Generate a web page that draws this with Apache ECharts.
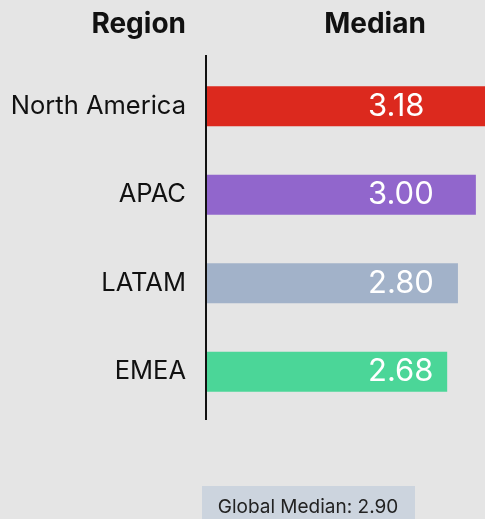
<!DOCTYPE html>
<html>
<head>
<meta charset="utf-8">
<script src="https://cdn.jsdelivr.net/npm/echarts@6/dist/echarts.min.js"></script>
<style>
  html, body { margin: 0; padding: 0; background: #e5e5e5; }
  #chart { width: 485px; height: 519px; }
</style>
</head>
<body>
<div id="chart"></div>
<script>
const regions = ['North America', 'APAC', 'LATAM', 'EMEA']
const medians = [3.18, 3.00, 2.80, 2.68]
const barColors = ['#dc291e', '#9166cc', '#a2b2c9', '#4bd698']
const globalMedian = 2.90

const FONT = 'Inter'

var chart = echarts.init(document.getElementById('chart'))

option = {
    backgroundColor: '#e5e5e5',
    animation: false,
    grid: {
        left: 207,
        top: 62,
        height: 354,
        width: 285,
        outerBoundsMode: 'none'
    },
    xAxis: {
        type: 'value',
        min: 0,
        max: 3.18,
        show: false
    },
    yAxis: {
        type: 'category',
        data: regions,
        inverse: true,
        axisLine: { show: false },
        axisTick: { show: false },
        axisLabel: {
            margin: 21,
            fontFamily: FONT,
            fontSize: 25.5,
            color: '#111'
        }
    },
    series: [{
        type: 'bar',
        barWidth: 40,
        data: medians.map((v, i) => ({ value: v, itemStyle: { color: barColors[i] } })),
        label: {
            show: true,
            position: [161, '50%'],
            align: 'left',
            verticalAlign: 'middle',
            fontFamily: FONT,
            fontSize: 31,
            color: '#fff',
            formatter: p => p.value.toFixed(2)
        }
    }],
    graphic: [
        // header row
        { type: 'text', x: 186, y: 25,
          style: { text: 'Region', font: 'bold 28px ' + FONT, fill: '#111',
                   align: 'right', verticalAlign: 'middle' } },
        { type: 'text', x: 375, y: 25,
          style: { text: 'Median', font: 'bold 28px ' + FONT, fill: '#111',
                   align: 'center', verticalAlign: 'middle' } },
        // axis line
        { type: 'line', shape: { x1: 206, y1: 55, x2: 206, y2: 420 },
          style: { stroke: '#111', lineWidth: 2 } },
        // footer note
        { type: 'rect', shape: { x: 202, y: 486, width: 213, height: 40 },
          style: { fill: '#ccd4de' } },
        { type: 'text', x: 308, y: 507,
          style: { text: 'Global Median: ' + globalMedian.toFixed(2), font: '19px ' + FONT,
                   fill: '#222', align: 'center', verticalAlign: 'middle' } }
    ]
}
chart.setOption(option)
</script>
</body>
</html>
